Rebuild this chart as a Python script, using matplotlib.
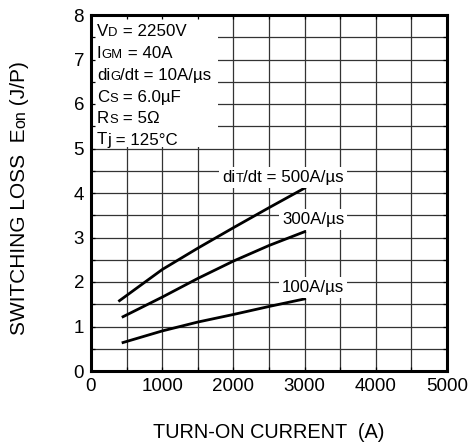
import numpy as np
import matplotlib
matplotlib.use("Agg")
from matplotlib import pyplot as plt
from matplotlib.patches import Rectangle
from matplotlib.transforms import IdentityTransform, Bbox

plt.rcParams['font.family'] = ['Liberation Sans', 'DejaVu Sans']

# (turn-on current in A, Eon in J/P)
current_500 = [400, 1000, 1500, 2000, 2500, 3000]
eon_500 = [1.58, 2.28, 2.76, 3.22, 3.67, 4.11]
current_300 = [450, 1000, 1500, 2000, 2500, 3000]
eon_300 = [1.22, 1.66, 2.08, 2.47, 2.82, 3.13]
current_100 = [450, 1000, 1500, 2000, 2500, 3000]
eon_100 = [0.64, 0.90, 1.10, 1.27, 1.45, 1.62]

x_ticks = [0, 1000, 2000, 3000, 4000, 5000]
y_ticks = [0, 1, 2, 3, 4, 5, 6, 7, 8]

BIG = 12.2
SMALL = 9.4
H = 442

fig = plt.figure(figsize=(4.7, 4.42), dpi=100)
renderer = fig.canvas.get_renderer()


def rich(x, y, parts, rotation=0, **kw):
    # pieces of different sizes set one after another on a common baseline,
    # x, y in pixels from the top-left corner; returns the union bbox
    px, py = x, H - y
    boxes = []
    for s, fs in parts:
        t = fig.text(px, py, s, fontsize=fs, transform=IdentityTransform(),
                     ha='left', va='baseline', rotation=rotation,
                     rotation_mode='anchor', **kw)
        ext = t.get_window_extent(renderer)
        boxes.append(ext)
        if rotation == 0:
            px += ext.width
        else:
            py += ext.height
    return Bbox.union(boxes)


ax = fig.add_axes([91/470, 71/442, 356/470, 356/442])
ax.set_xlim(0, 5000)
ax.set_ylim(0, 8)

# grid every 500 A and every 0.5 J/P
ax.vlines(np.arange(500, 5000, 500), 0, 8, colors='#333333', lw=0.9, zorder=1)
ax.hlines(np.arange(0.5, 8, 0.5), 0, 5000, colors='#333333', lw=0.9, zorder=1)

# white box for the test conditions
ax.add_patch(Rectangle((0, 5.03), 1784, 2.97, facecolor='white',
                       edgecolor='none', zorder=1.2))

ax.plot(current_500, eon_500, color='black', lw=2.0, zorder=4)
ax.plot(current_300, eon_300, color='black', lw=2.0, zorder=4)
ax.plot(current_100, eon_100, color='black', lw=2.0, zorder=4)

ax.set_xticks(x_ticks)
ax.set_yticks(y_ticks)
ax.set_xticks(np.arange(0, 5001, 500), minor=True)
ax.set_yticks(np.arange(0, 8.01, 0.5), minor=True)
ax.tick_params(which='both', direction='in', length=3, width=0.9,
               top=True, right=True, labelsize=13.5, pad=5)
for sp in ax.spines.values():
    sp.set_linewidth(2.2)

# test conditions
cond = [
    [("V", BIG), ("D", SMALL), (" = 2250V", BIG)],
    [("I", BIG), ("GM", SMALL), (" = 40A", BIG)],
    [("di", BIG), ("G", SMALL), ("/dt = 10A/\u00b5s", BIG)],
    [("C", BIG), ("S", SMALL), (" = 6.0\u00b5F", BIG)],
    [("R", BIG), ("S", SMALL), (" = 5\u03a9", BIG)],
    [("T", BIG), ("j = 125\u00b0C", BIG)],
]
base_px = [36.5, 58.2, 80, 101.7, 123, 144.5]
for parts, yp in zip(cond, base_px):
    rich(97, yp, parts, zorder=5)

# curve labels, each on a white patch hiding the grid
labels = [
    (222, 182.3, [("di", BIG), ("T", SMALL), ("/dt = 500A/\u00b5s", BIG)]),
    (282, 224.0, [("300A/\u00b5s", BIG)]),
    (282, 291.7, [("100A/\u00b5s", BIG)]),
]
pad = 3
for xp, yp, parts in labels:
    bb = rich(xp, yp, parts, zorder=5)
    fig.add_artist(Rectangle((bb.x0 - pad, bb.y0 - pad), bb.width + 2*pad,
                             bb.height + 2*pad, transform=IdentityTransform(),
                             facecolor='white', edgecolor='none', zorder=4.5))

# axis titles
fig.text(269, H - 438, "TURN-ON CURRENT  (A)", fontsize=14.3,
         transform=IdentityTransform(), ha='center', va='baseline')
rich(25, 335, [("SWITCHING LOSS  E", 15), ("on", 11.5), (" (J/P)", 15)],
     rotation=90)

fig.savefig("out.png", dpi=100)
